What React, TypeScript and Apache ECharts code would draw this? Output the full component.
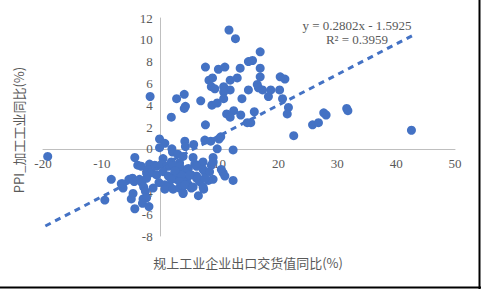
import React, { useEffect, useRef } from "react";
import * as echarts from "echarts";

// 规上工业企业出口交货值同比(%)
const EXPORT_YOY: number[] = [
  11.6, 12.7, 16.9, 7.6, 9.8, 10.9, 13.5, 14.9, 15.6, 16.9,
  8.2, 8.8, 11.8, 13.0, 16.9, 20.3, 21.1, 8.6, 9.2, 10.7,
  11.8, 10.7, 14.9, 16.4, 16.6, 17.3, 18.7, 20.2, 18.3, 20.7,
  10.7, 13.8, 6.8, 8.7, 9.6, 4.0, 2.7, 4.2, 4.0, -1.8,
  1.8, 12.4, 11.2, 11.8, 13.6, 15.9, 21.7, 21.5, 14.7, 15.3,
  7.6, 25.8, 26.8, 27.7, 28.1, 31.6, 31.8, 22.6, 42.6, -19.2,
  7.5, 8.5, 9.9, 10.2, 9.6, 12.3, 4.1, 4.2, 5.6, -0.2,
  0.7, -0.2, 1.9, 2.0, 2.9, 3.8, 5.5, 0.4, 8.9, 12.3,
  10.3, 10.6, 10.9, 8.9, 8.6, 8.9, 7.2, -4.4, -3.9, -3.3,
  -1.9, -1.0, -8.4, -6.7, -6.4, -5.4, -4.8, -4.5, -3.6, -3.2,
  -2.9, -2.6, -1.3, -5.0, -3.0, -2.4, -3.1, -9.5, -4.4, -2.0,
  -2.2, -2.4, -1.6, -2.4, -6.5, -4.7, -0.7, 0.2, 1.3, -0.7,
  0.4, 1.3, -0.3, 0.7, 1.5, 0.7, 2.1, 3.2, 3.8, 3.5,
  2.7, 2.4, 3.5, 4.4, 5.2, 4.4, 4.7, 6.1, 6.6, 6.4,
  7.3, 5.2, 8.1, 7.5, 6.9, 5.8, 3.2, 1.8, 2.1, 3.2,
  4.7, 6.1, 7.2, 8.3, 7.5, 6.1, 4.9, 3.5, 2.4, 1.8,
  3.2, 4.1, 5.5, 7.2, 3.8,
];

// PPI_加工工业同比(%)
const PPI_YOY: number[] = [
  10.9, 10.1, 8.9, 7.5, 7.3, 7.5, 7.4, 8.0, 8.1, 7.4,
  6.3, 6.5, 6.3, 6.5, 6.6, 6.6, 6.4, 5.7, 5.5, 5.7,
  5.4, 5.2, 5.4, 5.9, 5.6, 5.4, 5.4, 5.4, 4.8, 4.6,
  4.6, 4.6, 4.4, 4.0, 4.2, 5.0, 4.6, 3.9, 3.7, 4.8,
  2.9, 3.5, 3.2, 2.9, 3.1, 3.4, 3.8, 3.2, 2.4, 2.4,
  2.2, 2.2, 2.4, 3.3, 3.1, 3.7, 3.5, 1.2, 1.7, -0.7,
  0.8, 0.7, 0.9, 1.1, 0.0, -0.1, 0.7, 0.2, 0.4, 0.9,
  0.5, 0.1, 0.0, -0.3, -0.5, -0.7, -0.8, -0.9, -0.8, -2.9,
  -1.9, -2.2, -2.5, -2.8, -1.5, -1.2, -1.2, -0.8, -1.5, -1.6,
  -1.4, -1.5, -2.8, -3.2, -3.6, -2.8, -2.7, -3.0, -2.8, -3.1,
  -3.5, -3.9, -3.6, -4.6, -4.6, -4.5, -5.0, -4.7, -5.5, -5.3,
  -1.9, -2.2, -2.2, -2.7, -3.2, -4.1, -1.6, -1.4, -1.6, -2.4,
  -2.1, -2.5, -3.1, -3.3, -3.4, -3.7, -3.7, -3.6, -4.0, -3.3,
  -2.8, -2.2, -2.2, -1.9, -2.4, -2.8, -3.3, -2.7, -3.0, -4.3,
  -3.7, -3.6, -2.9, -2.1, -1.4, -1.4, -1.3, -1.2, -1.5, -1.6,
  -1.8, -1.6, -1.9, -2.1, -2.7, -2.5, -2.4, -2.4, -2.0, -2.8,
  -3.0, -3.3, -3.5, -3.5, -4.1,
];

// Linear trendline shown in the reference
const TREND_SLOPE = 0.2802;
const TREND_INTERCEPT = -1.5925;
const TREND_R2 = "0.3959";
const TREND_X_RANGE: number[] = [-19.6, 42.9];

const X_MIN = -20;
const X_MAX = 50;
const X_STEP = 10;
const Y_MIN = -8;
const Y_MAX = 12;
const Y_STEP = 2;

const X_NAME = "规上工业企业出口交货值同比(%)";
const Y_NAME = "PPI_加工工业同比(%)";

const W = 481;
const H = 289;
const GRID = { left: 43, right: 26, top: 18, bottom: 53 };

export default function App() {
  const ref = useRef<HTMLDivElement>(null);

  useEffect(() => {
    if (!ref.current) return;
    const chart = echarts.init(ref.current, undefined, { renderer: "svg" });

    const points = EXPORT_YOY.map((x, i) => [x, PPI_YOY[i]]);
    const trend = TREND_X_RANGE.map((x) => [x, TREND_SLOPE * x + TREND_INTERCEPT]);

    const gridW = W - GRID.left - GRID.right;
    const gridH = H - GRID.top - GRID.bottom;
    // move the axes (line + labels) onto the zero lines
    const xAxisOffset = -(gridH * (0 - Y_MIN)) / (Y_MAX - Y_MIN);
    const yAxisOffset = -(gridW * (0 - X_MIN)) / (X_MAX - X_MIN);

    const axisColor = "#BFBFBF";
    const textColor = "#595959";
    const serif = "'Liberation Serif', 'Times New Roman', serif";
    const cjk = "'Noto Sans CJK SC', 'Noto Sans', sans-serif";

    chart.setOption({
      animation: false,
      backgroundColor: "#ffffff",
      grid: { ...GRID },
      xAxis: {
        type: "value",
        position: "bottom",
        offset: xAxisOffset,
        min: X_MIN,
        max: X_MAX,
        interval: X_STEP,
        axisLine: { onZero: false, lineStyle: { color: axisColor, width: 1 } },
        axisTick: { show: false },
        splitLine: { show: false },
        axisLabel: { color: textColor, fontFamily: serif, fontSize: 13, margin: 8 },
      },
      yAxis: {
        type: "value",
        position: "left",
        offset: yAxisOffset,
        min: Y_MIN,
        max: Y_MAX,
        interval: Y_STEP,
        axisLine: { show: true, onZero: false, lineStyle: { color: axisColor, width: 1 } },
        axisTick: { show: false },
        splitLine: { show: false },
        axisLabel: { color: textColor, fontFamily: serif, fontSize: 13, margin: 8 },
      },
      series: [
        {
          type: "scatter",
          data: points,
          symbol: "circle",
          symbolSize: 9,
          itemStyle: { color: "#4472C4", opacity: 1 },
          z: 2,
        },
        {
          type: "line",
          data: trend,
          symbol: "none",
          lineStyle: { color: "#4472C4", width: 3, type: [6, 5], cap: "butt" },
          z: 3,
        },
      ],
      graphic: [
        {
          type: "text",
          x: 357,
          y: 25,
          style: {
            text: `y = ${TREND_SLOPE}x - ${Math.abs(TREND_INTERCEPT)}`,
            fill: textColor,
            font: `13px ${serif}`,
            align: "center",
            verticalAlign: "middle",
          },
        },
        {
          type: "text",
          x: 357,
          y: 39,
          style: {
            text: `R² = ${TREND_R2}`,
            fill: textColor,
            font: `13px ${serif}`,
            align: "center",
            verticalAlign: "middle",
          },
        },
        {
          type: "text",
          x: 248,
          y: 262,
          style: {
            text: X_NAME,
            fill: textColor,
            font: `13px ${cjk}`,
            align: "center",
            verticalAlign: "middle",
          },
        },
        {
          type: "text",
          x: 18,
          y: 130,
          rotation: Math.PI / 2,
          style: {
            text: Y_NAME,
            fill: textColor,
            font: `13px ${cjk}`,
            align: "center",
            verticalAlign: "middle",
          },
        },
        {
          type: "line",
          shape: { x1: 0, y1: 287.5, x2: 481, y2: 287.5 },
          style: { stroke: "#000000", lineWidth: 2 },
        },
        {
          type: "line",
          shape: { x1: 479.5, y1: 0, x2: 479.5, y2: 289 },
          style: { stroke: "#000000", lineWidth: 2 },
        },
      ],
    });

    return () => chart.dispose();
  }, []);

  return <div ref={ref} style={{ width: W, height: H, position: "absolute", left: 0, top: 0 }} />;
}
